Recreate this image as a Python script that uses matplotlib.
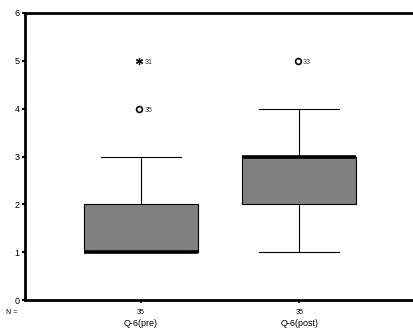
import matplotlib.pyplot as plt

plt.rcParams['font.family'] = ['Liberation Sans', 'DejaVu Sans']

# box statistics per group
groups = ['Q-6(pre)', 'Q-6(post)']
n_counts = [35, 35]
q1 = [1, 2]
med = [1, 3]
q3 = [2, 3]
wlo = [1, 1]
whi = [3, 4]
# outliers: (group index, value, case number, kind)
outliers = [(0, 4, '35', 'o'), (0, 5, '31', '*'), (1, 5, '33', 'o')]

fig = plt.figure(figsize=(4.13, 3.33), dpi=100)
ax = fig.add_axes([25/413, 1-300/333, 1-25/413, 287/333])

stats = []
for i in range(len(groups)):
    stats.append(dict(med=med[i], q1=q1[i], q3=q3[i], whislo=wlo[i], whishi=whi[i], fliers=[]))

pos = [1, 2]
ax.bxp(stats, positions=pos, widths=0.72, patch_artist=True, showfliers=False,
       boxprops=dict(facecolor='#808080', edgecolor='black', linewidth=0.8),
       medianprops=dict(color='black', linewidth=2.6),
       whiskerprops=dict(color='black', linewidth=0.8),
       capprops=dict(color='black', linewidth=0.8),
       capwidths=0.51)

for g, v, case, kind in outliers:
    if kind == 'o':
        ax.plot(pos[g] - 0.01, v, 'o', ms=4.2, mfc='white', mec='black', mew=1.2)
    else:
        ax.plot(pos[g] - 0.01, v, marker=(6, 2, 0), ms=5, color='black', mew=0.9)
    ax.text(pos[g] + 0.025, v - 0.04, case, fontsize=5, va='center', ha='left', color='#333333')

ax.set_xlim(0.266, 2.72)
ax.set_ylim(0, 6)
ax.set_yticks(range(7))
ax.tick_params(axis='y', labelsize=6.5, length=2, width=1.5, pad=2)
ax.set_xticks(pos)
ax.set_xticklabels([])
ax.tick_params(axis='x', length=2, width=1.2)

for s in ['left', 'top', 'bottom']:
    ax.spines[s].set_linewidth(2)
ax.spines['right'].set_visible(False)

# N counts and group names under the axis
for i, p in enumerate(pos):
    ax.text(p, -0.26, str(n_counts[i]), fontsize=5, ha='center', va='center')
    ax.text(p, -0.5, groups[i], fontsize=6.5, ha='center', va='center')
fig.text(6/413, 1-312/333, 'N =', fontsize=5, va='center', ha='left')

fig.savefig('out.png', dpi=100)
